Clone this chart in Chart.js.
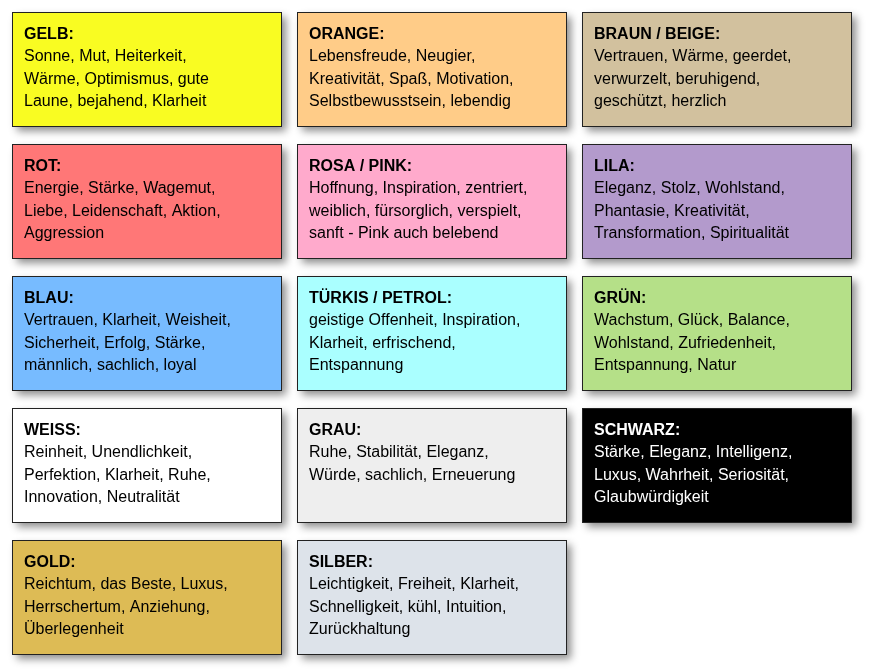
<!DOCTYPE html>
<html><head><meta charset="utf-8">
<script src="https://cdn.jsdelivr.net/npm/chart.js@4/dist/chart.umd.min.js"></script>
<style>html,body{margin:0;padding:0;background:#fff}#c{display:block}</style>
</head><body>
<div style="width:871px;height:672px"><canvas id="c"></canvas></div>
<script>
// Farben und ihre Bedeutungen
const titles = ['GELB:', 'ORANGE:', 'BRAUN / BEIGE:', 'ROT:', 'ROSA / PINK:', 'LILA:', 'BLAU:', 'TÜRKIS / PETROL:', 'GRÜN:', 'WEISS:', 'GRAU:', 'SCHWARZ:', 'GOLD:', 'SILBER:'];
const texts = [
  ['Sonne, Mut, Heiterkeit,', 'Wärme, Optimismus, gute', 'Laune, bejahend, Klarheit'],
  ['Lebensfreude, Neugier,', 'Kreativität, Spaß, Motivation,', 'Selbstbewusstsein, lebendig'],
  ['Vertrauen, Wärme, geerdet,', 'verwurzelt, beruhigend,', 'geschützt, herzlich'],
  ['Energie, Stärke, Wagemut,', 'Liebe, Leidenschaft, Aktion,', 'Aggression'],
  ['Hoffnung, Inspiration, zentriert,', 'weiblich, fürsorglich, verspielt,', 'sanft - Pink auch belebend'],
  ['Eleganz, Stolz, Wohlstand,', 'Phantasie, Kreativität,', 'Transformation, Spiritualität'],
  ['Vertrauen, Klarheit, Weisheit,', 'Sicherheit, Erfolg, Stärke,', 'männlich, sachlich, loyal'],
  ['geistige Offenheit, Inspiration,', 'Klarheit, erfrischend,', 'Entspannung'],
  ['Wachstum, Glück, Balance,', 'Wohlstand, Zufriedenheit,', 'Entspannung, Natur'],
  ['Reinheit, Unendlichkeit,', 'Perfektion, Klarheit, Ruhe,', 'Innovation, Neutralität'],
  ['Ruhe, Stabilität, Eleganz,', 'Würde, sachlich, Erneuerung'],
  ['Stärke, Eleganz, Intelligenz,', 'Luxus, Wahrheit, Seriosität,', 'Glaubwürdigkeit'],
  ['Reichtum, das Beste, Luxus,', 'Herrschertum, Anziehung,', 'Überlegenheit'],
  ['Leichtigkeit, Freiheit, Klarheit,', 'Schnelligkeit, kühl, Intuition,', 'Zurückhaltung']
];
const colors = ['#f9fc22', '#ffcc88', '#d2c19e', '#ff7777', '#ffaacc', '#b39acc', '#77bbff', '#aaffff', '#b5e088', '#ffffff', '#eeeeee', '#000000', '#ddbb55', '#dde3ea'];
const cols = [0, 1, 2, 0, 1, 2, 0, 1, 2, 0, 1, 2, 0, 1];
const rows = [0, 0, 0, 1, 1, 1, 2, 2, 2, 3, 3, 3, 4, 4];

const BOX_W = 269 / 285;
const BOX_H = 114 / 132;

const boxPlugin = {
  id: 'boxes',
  afterDatasetsDraw(chart) {
    const { ctx, scales: { x, y } } = chart;
    cols.forEach((c, i) => {
      const left = x.getPixelForValue(c);
      const right = x.getPixelForValue(c + BOX_W);
      const top = y.getPixelForValue(rows[i]);
      const bottom = y.getPixelForValue(rows[i] + BOX_H);
      ctx.save();
      ctx.shadowColor = 'rgba(0,0,0,0.45)';
      ctx.shadowBlur = 8;
      ctx.shadowOffsetX = 5;
      ctx.shadowOffsetY = 5;
      ctx.fillStyle = colors[i];
      ctx.fillRect(left, top, right - left, bottom - top);
      ctx.restore();
      ctx.save();
      ctx.strokeStyle = '#222';
      ctx.lineWidth = 1;
      ctx.strokeRect(Math.round(left) + 0.5, Math.round(top) + 0.5, Math.round(right - left), Math.round(bottom - top));
      const fg = colors[i] === '#000000' ? '#fff' : '#000';
      ctx.fillStyle = fg;
      ctx.textBaseline = 'middle';
      ctx.font = 'bold 16px "Liberation Sans", Arial, sans-serif';
      ctx.fillText(titles[i], left + 12, top + 23);
      ctx.font = '16px "Liberation Sans", Arial, sans-serif';
      texts[i].forEach((t, j) => ctx.fillText(t, left + 12, top + 45 + j * 22.5));
      ctx.restore();
    });
  }
};

new Chart(document.getElementById('c'), {
  type: 'scatter',
  data: {
    datasets: [{ data: cols.map((c, i) => ({ x: c, y: rows[i] })), pointRadius: 0 }]
  },
  options: {
    responsive: true,
    maintainAspectRatio: false,
    animation: false,
    layout: { padding: 0 },
    plugins: { legend: { display: false }, tooltip: { enabled: false } },
    scales: {
      x: { type: 'linear', min: -12 / 285, max: -12 / 285 + 871 / 285, display: false },
      y: { type: 'linear', reverse: true, min: -12 / 132, max: -12 / 132 + 672 / 132, display: false }
    }
  },
  plugins: [boxPlugin]
});
</script>
</body></html>
